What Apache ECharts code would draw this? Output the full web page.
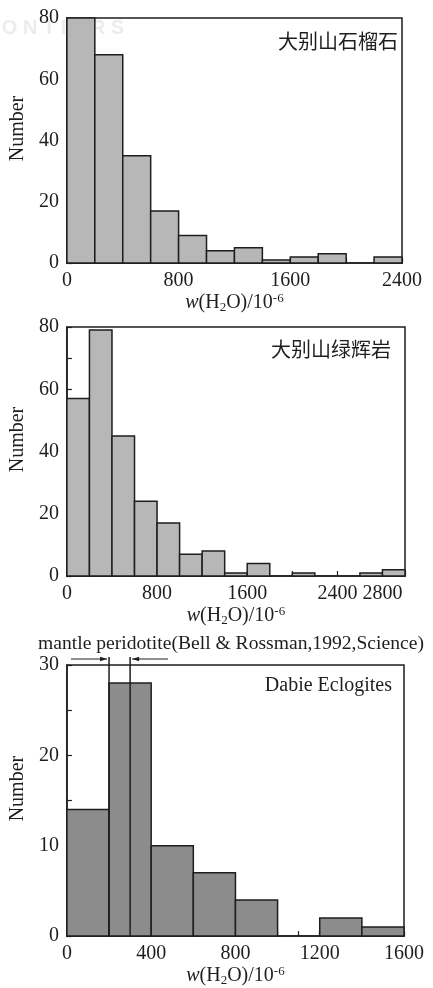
<!DOCTYPE html>
<html>
<head>
<meta charset="utf-8">
<script src="https://cdn.jsdelivr.net/npm/echarts@6/dist/echarts.min.js"></script>
<style>
  html, body { margin: 0; padding: 0; background: #ffffff; }
  #chart { width: 433px; height: 988px; }
</style>
</head>
<body>
<div id="chart"></div>
<script>
// Histogram bins (lower edges, bin width 200) and counts for each panel
const binWidth = 200;

const garnetBinStarts = [0, 200, 400, 600, 800, 1000, 1200, 1400, 1600, 1800, 2000, 2200];
const garnetCounts    = [80, 68, 35, 17, 9, 4, 5, 1, 2, 3, 0, 2];

const omphaciteBinStarts = [0, 200, 400, 600, 800, 1000, 1200, 1400, 1600, 1800, 2000, 2200, 2400, 2600, 2800];
const omphaciteCounts    = [57, 79, 45, 24, 17, 7, 8, 1, 4, 0, 1, 0, 0, 1, 2];

const eclogiteBinStarts = [0, 200, 400, 600, 800, 1000, 1200, 1400];
const eclogiteCounts    = [14, 28, 10, 7, 4, 0, 2, 1];

// Mantle peridotite water range (Bell & Rossman, 1992)
const peridotiteRange = [200, 300];

// Axis tick labels
const garnetXLabels = [0, 800, 1600, 2400];
const omphaciteXLabels = [0, 800, 1600, 2400, 2800];
const eclogiteXLabels = [0, 400, 800, 1200, 1600];

const panelTitles = ['大别山石榴石', '大别山绿辉岩', 'Dabie Eclogites'];
const yName = 'Number';
const xName = '{i|w}(H{s|2}O)/10{p|-6}';
const refNote = 'mantle peridotite(Bell & Rossman,1992,Science)';

const SERIF = "'Liberation Serif', 'DejaVu Serif', serif";
const CJK = "'Noto Sans CJK SC', sans-serif";
const INK = '#1e1e1e';
const FS = 20;

function binData(starts, counts) {
  return starts.map((s, i) => [s, s + binWidth, counts[i]]);
}

function histSeries(idx, starts, counts, fill) {
  return {
    type: 'custom',
    xAxisIndex: idx,
    yAxisIndex: idx,
    encode: { x: [0, 1], y: 2 },
    data: binData(starts, counts),
    renderItem: function (params, api) {
      const v = api.value(2);
      if (!v) return null;
      const p0 = api.coord([api.value(0), v]);
      const p1 = api.coord([api.value(1), 0]);
      return {
        type: 'rect',
        shape: { x: p0[0], y: p0[1], width: p1[0] - p0[0], height: p1[1] - p0[1] },
        style: { fill: fill, stroke: INK, lineWidth: 1.5 }
      };
    },
    z: 2
  };
}

const richName = {
  i: { fontFamily: SERIF, fontSize: FS, fontStyle: 'italic', lineHeight: 22, color: INK },
  s: { fontFamily: SERIF, fontSize: 13, verticalAlign: 'bottom', lineHeight: 22, color: INK },
  p: { fontFamily: SERIF, fontSize: 13, verticalAlign: 'top', lineHeight: 22, color: INK }
};

function xAxisDef(idx, max, interval, minorSplit, labels, nameGap) {
  return {
    type: 'value',
    gridIndex: idx,
    min: 0,
    max: max,
    interval: interval,
    name: xName,
    nameLocation: 'middle',
    nameGap: nameGap,
    nameTextStyle: { fontFamily: SERIF, fontSize: FS, color: INK, lineHeight: 22, rich: richName },
    axisLine: { show: true, onZero: false, lineStyle: { color: INK, width: 1.5 } },
    axisTick: { show: true, inside: true, length: 5, lineStyle: { color: INK, width: 1.2 } },
    minorTick: { show: minorSplit > 1, splitNumber: minorSplit, length: 5, lineStyle: { color: INK, width: 1.2 } },
    splitLine: { show: false },
    axisLabel: {
      margin: 8,
      fontFamily: SERIF,
      fontSize: FS,
      color: INK,
      showMaxLabel: true,
      formatter: function (v) { return labels.indexOf(v) >= 0 ? String(v) : ''; }
    }
  };
}

function yAxisDef(idx, max, interval, nameGap) {
  return {
    type: 'value',
    gridIndex: idx,
    min: 0,
    max: max,
    interval: interval,
    name: yName,
    nameLocation: 'middle',
    nameGap: nameGap,
    nameTextStyle: { fontFamily: SERIF, fontSize: FS, color: INK, padding: [0, 0, 0, 24] },
    axisLine: { show: true, lineStyle: { color: INK, width: 1.5 } },
    axisTick: { show: true, inside: true, length: 5, lineStyle: { color: INK, width: 1.2 } },
    minorTick: { show: true, splitNumber: 2, length: 5, lineStyle: { color: INK, width: 1.2 } },
    splitLine: { show: false },
    axisLabel: { margin: 8, fontFamily: SERIF, fontSize: FS, color: INK }
  };
}

// Vertical markers of the peridotite range with arrows pointing at them
const markerSeries = {
  type: 'custom',
  xAxisIndex: 2,
  yAxisIndex: 2,
  clip: false,
  encode: { x: 0 },
  data: peridotiteRange.map((x, i) => [x, i === 0 ? -1 : 1]),
  renderItem: function (params, api) {
    const x = api.value(0);
    const side = api.value(1);
    const yMax = 30;
    const top = api.coord([x, yMax]);
    const bottom = api.coord([x, 0]);
    const lineTop = top[1] - 8;
    const arrowY = top[1] - 6;
    const tip = top[0] + side * 2;
    const tail = tip + side * 36;
    const head = 7;
    return {
      type: 'group',
      children: [
        { type: 'line', shape: { x1: top[0], y1: lineTop, x2: bottom[0], y2: bottom[1] },
          style: { stroke: INK, lineWidth: 1.5 } },
        { type: 'line', shape: { x1: tail, y1: arrowY, x2: tip, y2: arrowY },
          style: { stroke: INK, lineWidth: 1 } },
        { type: 'polygon', shape: { points: [[tip, arrowY], [tip + side * head, arrowY - 2.2], [tip + side * head, arrowY + 2.2]] },
          style: { fill: INK } }
      ]
    };
  },
  z: 5
};

const chart = echarts.init(document.getElementById('chart'), null, { renderer: 'canvas' });

const gridStyle = { show: true, borderColor: INK, borderWidth: 1.5, backgroundColor: 'transparent', containLabel: false };

chart.setOption({
  backgroundColor: '#ffffff',
  animation: false,
  grid: [
    Object.assign({ left: 65, top: 18, width: 337, height: 245 }, gridStyle),
    Object.assign({ left: 63, top: 327, width: 342, height: 249 }, gridStyle),
    Object.assign({ left: 64, top: 665, width: 340, height: 276 }, gridStyle)
  ],
  xAxis: [
    xAxisDef(0, 2400, 800, 2, garnetXLabels, 27),
    xAxisDef(1, 3000, 400, 1, omphaciteXLabels, 28),
    xAxisDef(2, 1600, 400, 4, eclogiteXLabels, 21)
  ],
  yAxis: [
    yAxisDef(0, 80, 20, 29),
    yAxisDef(1, 80, 20, 29),
    yAxisDef(2, 30, 10, 25)
  ],
  graphic: [
    { type: 'text', left: -36, top: 18, silent: true,
      style: { text: 'F R O N T I E R S', fontFamily: "'Liberation Sans', sans-serif", fontWeight: 'bold', fontSize: 20, fill: '#ececec' }, z: 0 },
    { type: 'text', right: 35, top: 31,
      style: { text: panelTitles[0], fontFamily: CJK, fontSize: 20, fill: INK } },
    { type: 'text', right: 42, top: 339,
      style: { text: panelTitles[1], fontFamily: CJK, fontSize: 20, fill: INK } },
    { type: 'text', right: 41, top: 676,
      style: { text: panelTitles[2], fontFamily: SERIF, fontSize: 20, fill: INK } },
    { type: 'text', x: 231, y: 644,
      style: { text: refNote, fontFamily: SERIF, fontSize: 19.6, fill: INK, align: 'center', verticalAlign: 'middle' } }
  ],
  series: [
    histSeries(0, garnetBinStarts, garnetCounts, '#b7b7b7'),
    histSeries(1, omphaciteBinStarts, omphaciteCounts, '#b7b7b7'),
    histSeries(2, eclogiteBinStarts, eclogiteCounts, '#8c8c8c'),
    markerSeries
  ]
});
</script>
</body>
</html>
